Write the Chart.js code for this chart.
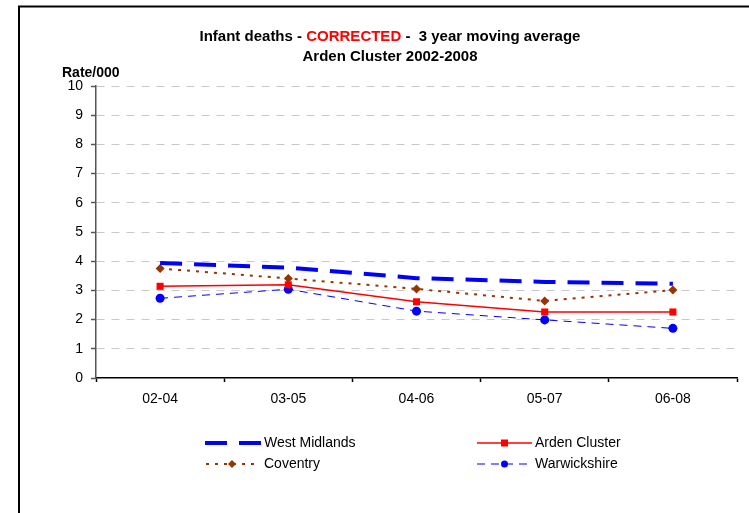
<!DOCTYPE html>
<html lang="en">
<head>
    <meta charset="UTF-8">
    <title>Infant deaths - CORRECTED - 3 year moving average</title>
    <script src="https://cdn.jsdelivr.net/npm/chart.js"></script>
    <style>
        body { margin: 0; padding: 0; background: #fff; }
        #wrap { width: 749px; height: 513px; }
    </style>
</head>
<body>
<div id="wrap"><canvas id="myChart" width="749" height="513"></canvas></div>
<script>
    // chart data
    const periods = ['02-04', '03-05', '04-06', '05-07', '06-08'];
    const westMidlands = [3.94, 3.78, 3.42, 3.29, 3.23];
    const ardenCluster = [3.14, 3.19, 2.61, 2.26, 2.26];
    const coventry = [3.75, 3.41, 3.05, 2.64, 3.01];
    const warwickshire = [2.73, 3.04, 2.29, 1.99, 1.70];
    const yTicks = [0, 1, 2, 3, 4, 5, 6, 7, 8, 9, 10];

    const FONT = 'Arial, "Liberation Sans", sans-serif';

    const series = [
        { label: 'West Midlands', data: westMidlands, color: '#0000ff', width: 4, dash: [22, 12], marker: null, lx: 205, lx2: 262, tx: 264, ly: 443 },
        { label: 'Arden Cluster', data: ardenCluster, color: '#ff0000', width: 1.5, dash: [], marker: 'rect', lx: 477, lx2: 532, tx: 535, ly: 443 },
        { label: 'Coventry', data: coventry, color: '#993300', width: 2, dash: [3, 6], marker: 'rectRot', lx: 206, lx2: 258, tx: 264, ly: 464 },
        { label: 'Warwickshire', data: warwickshire, color: '#0000ff', width: 1, dash: [8, 6], marker: 'circle', lx: 477, lx2: 532, tx: 535, ly: 464 }
    ];

    function drawMarker(ctx, type, x, y, color) {
        ctx.save();
        ctx.setLineDash([]);
        ctx.fillStyle = color;
        ctx.beginPath();
        if (type === 'rect') {
            ctx.rect(x - 3.5, y - 3.5, 7, 7);
        } else if (type === 'rectRot') {
            ctx.moveTo(x, y - 4); ctx.lineTo(x + 4, y); ctx.lineTo(x, y + 4); ctx.lineTo(x - 4, y);
            ctx.closePath();
        } else if (type === 'circle') {
            ctx.arc(x, y, 3.5, 0, Math.PI * 2);
        }
        ctx.fill();
        ctx.restore();
    }

    // border, titles and legend are drawn by hand
    const decor = {
        id: 'decor',
        beforeDraw(chart) {
            const ctx = chart.ctx;
            ctx.save();
            ctx.fillStyle = '#fff';
            ctx.fillRect(0, 0, chart.width, chart.height);
            ctx.restore();
        },
        afterDraw(chart) {
            const ctx = chart.ctx;
            ctx.save();
            // frame
            ctx.strokeStyle = '#000';
            ctx.lineWidth = 2;
            ctx.beginPath();
            ctx.moveTo(19, 520); ctx.lineTo(19, 6.5); ctx.lineTo(760, 6.5);
            ctx.stroke();

            // title line 1 with red word
            ctx.font = 'bold 15px ' + FONT;
            ctx.textBaseline = 'middle';
            ctx.textAlign = 'left';
            const parts = [['Infant deaths - ', '#000'], ['CORRECTED', '#ff0000'], [' -  3 year moving average', '#000']];
            let total = 0;
            parts.forEach(p => total += ctx.measureText(p[0]).width);
            let x = 390 - total / 2;
            parts.forEach(p => {
                ctx.fillStyle = p[1];
                ctx.fillText(p[0], x, 37);
                x += ctx.measureText(p[0]).width;
            });
            ctx.fillStyle = '#000';
            ctx.textAlign = 'center';
            ctx.fillText('Arden Cluster 2002-2008', 390, 57);

            ctx.font = 'bold 14px ' + FONT;
            ctx.textAlign = 'left';
            ctx.fillText('Rate/000', 62, 73);

            // legend
            ctx.font = '14px ' + FONT;
            series.forEach(s => {
                ctx.save();
                ctx.strokeStyle = s.color;
                ctx.lineWidth = s.width;
                ctx.setLineDash(s.dash);
                ctx.beginPath();
                ctx.moveTo(s.lx, s.ly);
                ctx.lineTo(s.lx2, s.ly);
                ctx.stroke();
                ctx.restore();
                if (s.marker) drawMarker(ctx, s.marker, (s.lx + s.lx2) / 2, s.ly, s.color);
                ctx.fillStyle = '#000';
                ctx.fillText(s.label, s.tx, s.ly);
            });
            ctx.restore();
        }
    };

    const ctx = document.getElementById('myChart').getContext('2d');
    const myChart = new Chart(ctx, {
        type: 'line',
        data: {
            labels: periods,
            datasets: series.map(s => ({
                label: s.label,
                data: s.data,
                borderColor: s.color,
                backgroundColor: s.color,
                borderWidth: s.width,
                borderDash: s.dash,
                pointStyle: s.marker || 'circle',
                pointRadius: s.marker === 'rect' ? 5 : (s.marker ? 4.5 : 0),
                pointBorderWidth: 0,
                fill: false,
                tension: 0
            }))
        },
        options: {
            responsive: false,
            animation: false,
            layout: { padding: { top: 86, right: 12, left: 0, bottom: 0 } },
            plugins: {
                legend: { display: false },
                title: { display: false },
                tooltip: { enabled: false }
            },
            scales: {
                x: {
                    offset: true,
                    afterFit: s => { s.height = 513 - 378; },
                    grid: { offset: true, drawOnChartArea: false, tickLength: 4, tickColor: '#000', tickWidth: 1.5 },
                    border: { color: '#000', width: 1.5 },
                    ticks: { color: '#000', padding: 9, font: { family: FONT, size: 14 } }
                },
                y: {
                    min: 0,
                    max: 10,
                    afterFit: s => { s.width = 96; },
                    afterBuildTicks: s => { s.ticks = yTicks.map(v => ({ value: v })); },
                    grid: {
                        color: c => (c.tick && c.tick.value === 0) ? 'rgba(0,0,0,0)' : '#c8c8c8',
                        lineWidth: 1,
                        tickLength: 5,
                        tickColor: '#555',
                        tickWidth: 1.5
                    },
                    border: { color: '#555', width: 1.5, dash: [8, 7] },
                    ticks: { color: '#000', padding: 8, font: { family: FONT, size: 14 } }
                }
            }
        },
        plugins: [decor]
    });
</script>
</body>
</html>
